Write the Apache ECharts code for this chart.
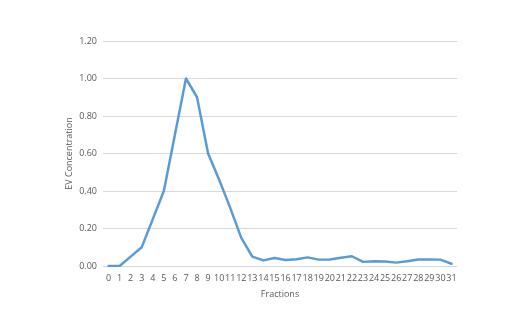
<!DOCTYPE html>
<html><head><meta charset="utf-8">
<script src="https://cdn.jsdelivr.net/npm/echarts@6/dist/echarts.min.js"></script>
<style>html,body{margin:0;padding:0;background:#fff}#c{width:526px;height:317px}</style>
</head><body><div id="c"></div>
<script>
var categories = ['0','1','2','3','4','5','6','7','8','9','10','11','12','13','14','15','16','17','18','19','20','21','22','23','24','25','26','27','28','29','30','31'];
var evConcentration = [0,0,0.05,0.10,0.25,0.40,0.70,1.00,0.90,0.60,0.46,0.31,0.15,0.05,0.03,0.043,0.032,0.036,0.046,0.034,0.035,0.044,0.052,0.022,0.025,0.024,0.018,0.025,0.035,0.035,0.034,0.012];
var yMin = 0, yMax = 1.2, yStep = 0.2;
var xTitle = 'Fractions', yTitle = 'EV Concentration';

var chart = echarts.init(document.getElementById('c'));
chart.setOption({
  animation:false,
  textStyle:{fontFamily:'Open Sans, Liberation Sans, sans-serif'},
  grid:{left:103,right:69,top:41,bottom:51},
  xAxis:{type:'category',data:categories,boundaryGap:true,
    axisLine:{lineStyle:{color:'#D9D9D9',width:1}},axisTick:{show:false},
    axisLabel:{color:'#595959',fontSize:9,interval:0,margin:8},
    name:xTitle,nameLocation:'middle',nameGap:24,nameTextStyle:{color:'#595959',fontSize:9}},
  yAxis:{type:'value',min:yMin,max:yMax,interval:yStep,
    axisLine:{show:false},axisTick:{show:false},
    splitLine:{lineStyle:{color:'#D9D9D9',width:1}},
    axisLabel:{color:'#595959',fontSize:9,margin:6,formatter:function(v){return v.toFixed(2);}},
    name:yTitle,nameLocation:'middle',nameGap:29,nameRotate:90,nameMoveOverlap:false,
    nameTextStyle:{color:'#595959',fontSize:9}},
  series:[{type:'line',data:evConcentration,symbol:'none',
    lineStyle:{color:'#5B9BD5',width:2.5,cap:'round',join:'round'}}]
});
</script></body></html>
